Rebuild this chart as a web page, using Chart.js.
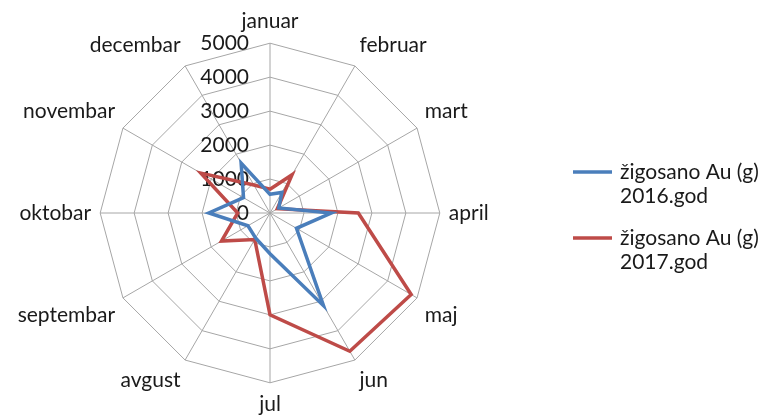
<!DOCTYPE html>
<html>
<head>
<meta charset="utf-8">
<script src="https://cdn.jsdelivr.net/npm/chart.js@4"></script>
<style>
  html, body { margin: 0; padding: 0; background: #fff; }
</style>
</head>
<body>
<canvas id="radarChart" width="764" height="418"></canvas>
<script>
// months and values (zigosano Au, grams)
const months = ['januar', 'februar', 'mart', 'april', 'maj', 'jun',
                'jul', 'avgust', 'septembar', 'oktobar', 'novembar', 'decembar'];
const au2016 = [550, 700, 300, 1800, 900, 3150, 1200, 850, 750, 1800, 900, 1700];
const au2017 = [700, 1300, 250, 2600, 4800, 4700, 3000, 900, 1650, 950, 2350, 950];
const tickValues = [0, 1000, 2000, 3000, 4000, 5000];
const seriesNames = [['žigosano Au (g)', '2016.god'], ['žigosano Au (g)', '2017.god']];

const FONT = 'Lato, "Liberation Sans", sans-serif';
const TEXT = '#1a1a1a';

// tick labels sit left of the vertical axis, under the lines
const tickLabels = {
    id: 'tickLabels',
    beforeDatasetsDraw(chart) {
        const r = chart.scales.r;
        const ctx = chart.ctx;
        ctx.save();
        ctx.font = '21px ' + FONT;
        ctx.fillStyle = TEXT;
        ctx.textAlign = 'right';
        ctx.textBaseline = 'middle';
        tickValues.forEach(function (v) {
            const d = r.getDistanceFromCenterForValue(v);
            ctx.fillText(String(v), r.xCenter - 21, r.yCenter - d);
        });
        ctx.restore();
    }
};

// two-line legend on the right
const sideLegend = {
    id: 'sideLegend',
    afterDraw(chart) {
        const ctx = chart.ctx;
        ctx.save();
        ctx.font = '21px ' + FONT;
        ctx.fillStyle = TEXT;
        ctx.textBaseline = 'middle';
        chart.data.datasets.forEach(function (ds, i) {
            const y = 172 + i * 66;
            ctx.strokeStyle = ds.borderColor;
            ctx.lineWidth = 3.5;
            ctx.beginPath();
            ctx.moveTo(573, y);
            ctx.lineTo(612, y);
            ctx.stroke();
            seriesNames[i].forEach(function (line, j) {
                ctx.fillText(line, 620, y + j * 24);
            });
        });
        ctx.restore();
    }
};

const ctx = document.getElementById('radarChart').getContext('2d');
new Chart(ctx, {
    type: 'radar',
    data: {
        labels: months,
        datasets: [{
            label: seriesNames[0].join(' '),
            data: au2016,
            borderColor: '#4a7ebb',
            borderWidth: 3.5,
            fill: false
        }, {
            label: seriesNames[1].join(' '),
            data: au2017,
            borderColor: '#be4b48',
            borderWidth: 3.5,
            fill: false
        }]
    },
    options: {
        responsive: false,
        animation: false,
        layout: { padding: { left: 0, right: 254, top: 9, bottom: -3 } },
        elements: {
            point: { radius: 0, hoverRadius: 0 },
            line: { tension: 0, borderJoinStyle: 'miter' }
        },
        plugins: {
            legend: { display: false },
            tooltip: { enabled: false }
        },
        scales: {
            r: {
                min: 0,
                max: 5000,
                ticks: { stepSize: 1000, display: false },
                grid: { color: '#a6a6a6', lineWidth: 1 },
                angleLines: { color: '#a6a6a6', lineWidth: 1 },
                pointLabels: {
                    color: TEXT,
                    font: { family: FONT, size: 21 },
                    padding: 9
                }
            }
        }
    },
    plugins: [tickLabels, sideLegend]
});
</script>
</body>
</html>
